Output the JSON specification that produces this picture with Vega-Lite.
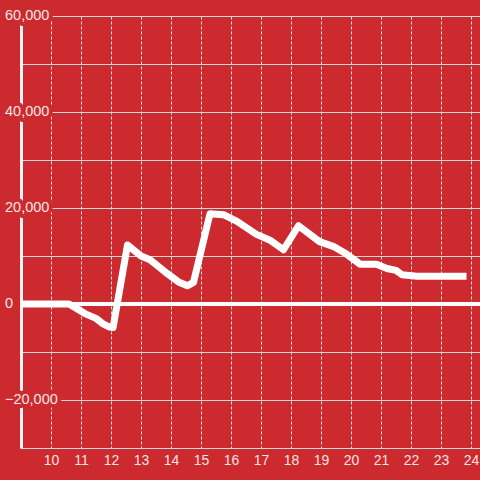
{
  "$schema": "https://vega.github.io/schema/vega-lite/v6.json",
  "width": 459,
  "height": 432,
  "autosize": {"type": "none"},
  "padding": {"left": 21, "top": 16, "right": 0, "bottom": 32},
  "background": "#cc2a2e",
  "config": {
    "view": {"stroke": null},
    "axis": {"labelFont": "Liberation Sans", "labelFontSize": 14, "labelColor": "#f3e3e3", "labelOverlap": false}
  },
  "datasets": {
    "series": [
      {"h": 9, "v": 0}, {"h": 10.6, "v": 0}, {"h": 11.13, "v": -2000}, {"h": 11.5, "v": -3000},
      {"h": 11.75, "v": -4200}, {"h": 11.95, "v": -4800}, {"h": 12.07, "v": -4900},
      {"h": 12.55, "v": 12300}, {"h": 13.0, "v": 10000}, {"h": 13.3, "v": 9200},
      {"h": 13.8, "v": 6700}, {"h": 14.25, "v": 4600}, {"h": 14.55, "v": 3800},
      {"h": 14.75, "v": 4500}, {"h": 15.3, "v": 18800}, {"h": 15.75, "v": 18600},
      {"h": 16.2, "v": 17200}, {"h": 16.85, "v": 14500}, {"h": 17.3, "v": 13300},
      {"h": 17.75, "v": 11300}, {"h": 18.25, "v": 16300}, {"h": 18.95, "v": 13000},
      {"h": 19.45, "v": 11900}, {"h": 19.85, "v": 10400}, {"h": 20.3, "v": 8300},
      {"h": 20.85, "v": 8300}, {"h": 21.2, "v": 7400}, {"h": 21.5, "v": 7000},
      {"h": 21.7, "v": 6100}, {"h": 22.2, "v": 5800}, {"h": 23.85, "v": 5800}
    ],
    "ylabels": [
      {"v": 60000}, {"v": 40000}, {"v": 20000}, {"v": 0}, {"v": -20000}
    ]
  },
  "data": {"name": "series"},
  "layer": [
    {
      "mark": {"type": "line", "color": "#ffffff", "strokeWidth": 7, "strokeJoin": "round", "clip": true},
      "encoding": {
        "x": {
          "field": "h", "type": "quantitative",
          "scale": {"domain": [9, 24.3], "nice": false, "zero": false},
          "axis": {
            "title": null, "values": [10, 11, 12, 13, 14, 15, 16, 17, 18, 19, 20, 21, 22, 23, 24],
            "domain": false, "ticks": false, "tickSize": 0, "labelPadding": 5,
            "labelOverlap": false, "labelFlush": false,
            "grid": true, "gridColor": "#e2e2e2", "gridDash": [3, 2], "gridWidth": 1
          }
        },
        "y": {
          "field": "v", "type": "quantitative",
          "scale": {"domain": [-30000, 60000], "nice": false},
          "axis": {
            "title": null,
            "values": [-30000, -20000, -10000, 0, 10000, 20000, 30000, 40000, 50000, 60000],
            "labels": false,
            "domain": true, "domainColor": "#f5f5f5", "domainWidth": 3,
            "ticks": false, "tickSize": 0,
            "grid": true, "gridColor": "#d8d8d8", "gridWidth": 1
          }
        }
      }
    },
    {
      "data": {"name": "ylabels"},
      "mark": {"type": "text", "align": "left", "baseline": "middle", "dx": -16, "font": "Liberation Sans", "fontSize": 14.5, "fill": "#cc2a2e", "stroke": "#cc2a2e", "strokeWidth": 8, "strokeJoin": "round"},
      "encoding": {
        "x": {
          "datum": 9, "type": "quantitative",
          "axis": {
            "title": null, "values": [10, 11, 12, 13, 14, 15, 16, 17, 18, 19, 20, 21, 22, 23, 24],
            "domain": false, "ticks": false, "tickSize": 0, "labelPadding": 5,
            "labelOverlap": false, "labelFlush": false,
            "grid": true, "gridColor": "#e2e2e2", "gridDash": [3, 2], "gridWidth": 1
          }
        },
        "y": {"field": "v", "type": "quantitative"},
        "text": {"field": "v", "type": "quantitative", "format": ","}
      }
    },
    {
      "data": {"name": "ylabels"},
      "mark": {"type": "text", "align": "left", "baseline": "middle", "dx": -16, "font": "Liberation Sans", "fontSize": 14.5, "fill": "#f3e6e6"},
      "encoding": {
        "x": {
          "datum": 9, "type": "quantitative",
          "axis": {
            "title": null, "values": [10, 11, 12, 13, 14, 15, 16, 17, 18, 19, 20, 21, 22, 23, 24],
            "domain": false, "ticks": false, "tickSize": 0, "labelPadding": 5,
            "labelOverlap": false, "labelFlush": false,
            "grid": true, "gridColor": "#e2e2e2", "gridDash": [3, 2], "gridWidth": 1
          }
        },
        "y": {"field": "v", "type": "quantitative"},
        "text": {"field": "v", "type": "quantitative", "format": ","}
      }
    },
    {
      "mark": {"type": "rule", "color": "#ffffff", "strokeWidth": 3},
      "encoding": {"y": {"datum": 0, "type": "quantitative"}}
    }
  ]
}
